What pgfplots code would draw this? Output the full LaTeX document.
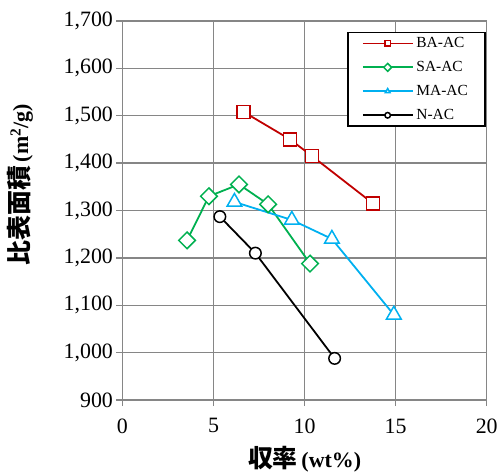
\documentclass[border=0pt]{standalone}
\usepackage{pgfplots}
\pgfplotsset{compat=1.18}
\usepackage{fontspec}
\setmainfont{Liberation Serif}
\newfontfamily\cjk{Noto Sans CJK JP}[BoldFont={Noto Sans CJK JP Black}]
\definecolor{cred}{RGB}{192,0,0}
\definecolor{cgreen}{RGB}{0,176,80}
\definecolor{ccyan}{RGB}{0,176,240}
\definecolor{cgrid}{RGB}{134,134,134}
\newcommand{\cj}[1]{{\fontsize{25}{28}\selectfont\cjk\bfseries #1}}
\begin{document}
\begin{tikzpicture}
\begin{axis}[
  scale only axis, width=366pt, height=381pt,
  xmin=0, xmax=20, ymin=900, ymax=1700,
  xtick={0,5,...,20}, ytick={900,1000,...,1700},
  axis lines*=left,
  axis line style={cgrid, line width=1.5pt},
  grid=major, grid style={cgrid, line width=1.5pt},
  tick style={cgrid, line width=1.5pt},
  tick align=outside, major tick length=6pt,
  ticklabel style={font=\fontsize{22}{26}\selectfont},
  xticklabel style={yshift=-9pt},
  /pgf/number format/1000 sep={,},
  /pgf/number format/assume math mode=true,
  xlabel={\cj{収率}\textbf{\,(wt\%)}},
  ylabel={\cj{比表面積}\textbf{\,(m\textsuperscript{2}/g)}},
  label style={font=\fontsize{22}{26}\selectfont},
  xlabel style={yshift=-6pt},
  ylabel style={at={(ticklabel cs:0.568,24pt)}},
  legend style={at={(rel axis cs:0.617,0.971)}, anchor=north west,
    draw=black, line width=1.5pt, fill=white,
    font=\fontsize{15.5}{18}\selectfont, row sep=8.3pt,
    inner xsep=14pt, inner ysep=3pt,
    nodes={inner xsep=3pt, inner ysep=2pt}},
  legend cell align=left,
  legend image code/.code={\draw[mark repeat=2,mark phase=2] plot coordinates {(0pt,0pt)(25pt,0pt)(50pt,0pt)};},
  legend image post style={mark size=2.8pt},
]
\addplot[cred, line width=1.8pt, mark=square*, mark size=6.5pt, mark options={solid, fill=white, line width=1.5pt}]
  coordinates {(6.65,1508) (9.2,1450) (10.4,1415) (13.75,1315)};
\addlegendentry{BA-AC}
\addplot[cgreen, line width=1.8pt, mark=square*, mark size=5.9pt, mark options={solid, fill=white, line width=1.5pt, rotate=45}]
  coordinates {(3.55,1237) (4.75,1330) (6.4,1355) (8.0,1313) (10.3,1188)};
\addlegendentry{SA-AC}
\addplot[ccyan, line width=1.8pt, mark=triangle*, mark size=8.5pt, mark options={solid, fill=white, line width=1.5pt}]
  coordinates {(6.15,1318) (9.3,1280) (11.5,1240) (14.9,1080)};
\addlegendentry{MA-AC}
\addplot[black, line width=1.8pt, mark=*, mark size=5.8pt, mark options={solid, fill=white, line width=1.5pt}]
  coordinates {(5.35,1287) (7.3,1210) (11.65,988)};
\addlegendentry{N-AC}
\coordinate (bbsw) at (rel axis cs:-0.336,-0.192);
\coordinate (bbne) at (rel axis cs:1.033,1.055);
\end{axis}
\path (bbsw) rectangle (bbne);
\end{tikzpicture}
\end{document}
